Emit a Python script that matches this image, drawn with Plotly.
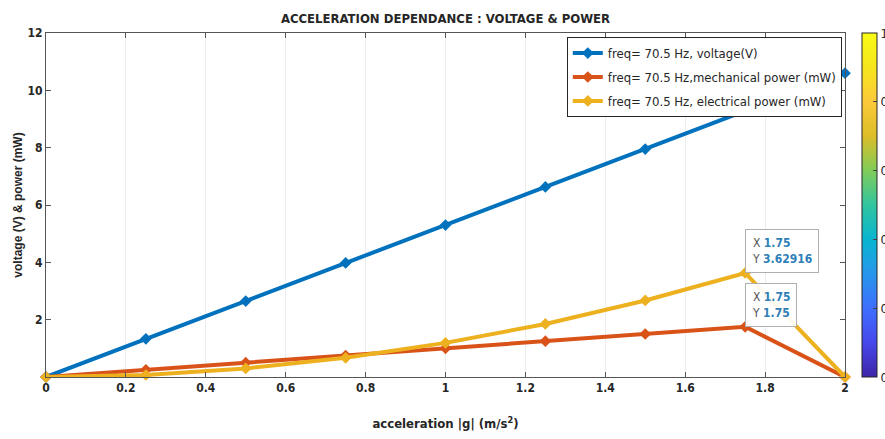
import plotly.graph_objects as go

# ---- data ----
accel = [0, 0.25, 0.5, 0.75, 1.0, 1.25, 1.5, 1.75, 2.0]
voltage = [0, 1.33, 2.65, 3.98, 5.30, 6.63, 7.95, 9.28, 10.6]
mech_power = [0, 0.25, 0.5, 0.75, 1.0, 1.25, 1.5, 1.75, 0]
elec_power = [0, 0.07, 0.30, 0.67, 1.19, 1.85, 2.67, 3.62916, 0]

series_names = [
    "freq= 70.5 Hz, voltage(V)",
    "freq= 70.5 Hz,mechanical power (mW)",
    "freq= 70.5 Hz, electrical power (mW)",
]
x_ticks = [0, 0.2, 0.4, 0.6, 0.8, 1, 1.2, 1.4, 1.6, 1.8, 2]
x_tick_labels = ["0", "0.2", "0.4", "0.6", "0.8", "1", "1.2", "1.4", "1.6", "1.8", "2"]
y_ticks = [2, 4, 6, 8, 10, 12]
y_tick_labels = ["2", "4", "6", "8", "10", "12"]
cbar_ticks = [0, 0.2, 0.4, 0.6, 0.8, 1]

tip_elec = (1.75, 3.62916)
tip_mech = (1.75, 1.75)

colors = ["#0072BD", "#D95319", "#EDB120"]
parula = [
    [0.0, "#3e26a8"], [0.1, "#4747eb"], [0.2, "#3e6ffe"], [0.3, "#2796eb"],
    [0.4, "#08b5d0"], [0.5, "#31c59f"], [0.6, "#80cc59"], [0.7, "#dcbd29"],
    [0.8, "#fcc93a"], [0.9, "#f6e61d"], [1.0, "#f9fb15"],
]

NARROW = "Liberation Sans Narrow, Arial Narrow, DejaVu Sans Condensed, Liberation Sans, Arial"
REG = "Liberation Sans, Arial, sans-serif"
TXT = "#262626"

fig = go.Figure()
for i, (ys, name, c) in enumerate(zip([voltage, mech_power, elec_power], series_names, colors)):
    fig.add_trace(go.Scatter(
        x=accel, y=ys, name=name, mode="lines+markers", legendgroup="g%d" % i,
        line=dict(color=c, width=4),
        marker=dict(symbol="diamond", size=9, color=c),
        cliponaxis=False,
    ))

# colorbar (parula) via an invisible helper trace
fig.add_trace(go.Scatter(
    x=[None], y=[None], mode="markers", showlegend=False, hoverinfo="skip",
    marker=dict(color=[0, 1], cmin=0, cmax=1, colorscale=parula, showscale=True,
                colorbar=dict(x=1.0213, xanchor="left", xpad=0, ypad=0,
                              y=0.5, yanchor="middle", len=1, lenmode="fraction",
                              thickness=15, outlinecolor=TXT, outlinewidth=1,
                              tickvals=cbar_ticks, ticks="inside", ticklen=4,
                              tickfont=dict(family=NARROW, size=13, color=TXT))),
))

lab = "<span style='color:#555555'>%s </span><b><span style='color:#2f7fb8'>%s</span></b>"
for (tx, ty), ytxt in [(tip_elec, "3.62916"), (tip_mech, "1.75")]:
    fig.add_annotation(
        x=tx, y=ty, xref="x", yref="y", xanchor="left", yanchor="bottom",
        showarrow=False, align="left",
        text=(lab % ("X", "1.75")) + "<br>" + (lab % ("Y", ytxt)),
        font=dict(family=NARROW, size=12),
        bgcolor="rgba(255,255,255,0.92)", bordercolor="#b0b0b0", borderwidth=1,
        borderpad=6,
    )

fig.update_layout(
    width=885, height=439,
    margin=dict(l=46, r=40, t=33, b=62, autoexpand=False),
    paper_bgcolor="white", plot_bgcolor="white",
    title=dict(text="<b>ACCELERATION DEPENDANCE : VOLTAGE & POWER</b>",
               x=0.5, xref="paper", xanchor="center", y=1 - 18 / 439, yanchor="middle",
               font=dict(family=NARROW, size=13, color=TXT)),
    showlegend=True,
    legend=dict(x=0.996, xanchor="right", y=0.988, yanchor="top",
                bgcolor="white", bordercolor=TXT, borderwidth=1, tracegroupgap=4,
                font=dict(family=NARROW, size=13, color=TXT)),
    xaxis=dict(range=[0, 2], tickvals=x_ticks,
               ticktext=["<b>%s</b>" % t for t in x_tick_labels],
               showgrid=True, gridcolor="#ececec", gridwidth=1, zeroline=False,
               showline=True, linecolor="#555555", linewidth=1, mirror="ticks",
               ticks="inside", ticklen=5, tickcolor="#555555",
               tickfont=dict(family=NARROW, size=12, color=TXT),
               title=dict(text="<b>acceleration |g| (m/s<sup>2</sup>)</b>", standoff=24,
                          font=dict(family=NARROW, size=13, color=TXT))),
    yaxis=dict(range=[0, 12], tickvals=y_ticks,
               ticktext=["<b>%s</b>" % t for t in y_tick_labels],
               showgrid=False, zeroline=False,
               showline=True, linecolor="#555555", linewidth=1, mirror="ticks",
               ticks="inside", ticklen=5, tickcolor="#555555",
               tickfont=dict(family=NARROW, size=12, color=TXT),
               title=dict(text="<b>voltage (V) & power (mW)</b>", standoff=2,
                          font=dict(family=REG, size=12, color=TXT))),
)

fig.write_html("out.html", config={"displayModeBar": False},
               post_script="document.body.style.margin='0';document.body.style.overflow='hidden';")
